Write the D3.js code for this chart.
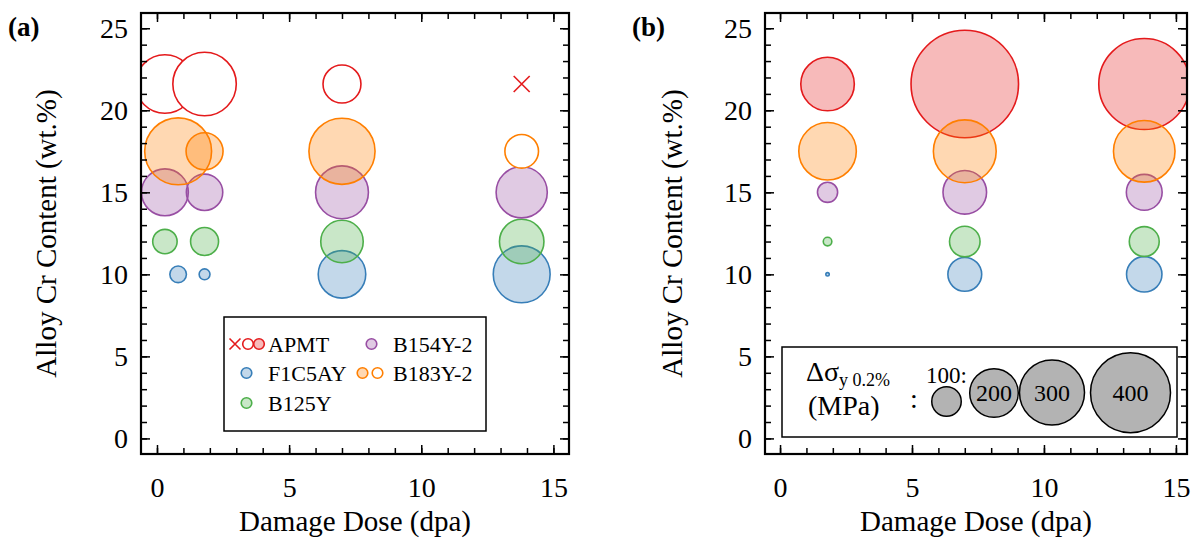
<!DOCTYPE html>
<html>
<head>
<meta charset="utf-8">
<script src="https://cdn.jsdelivr.net/npm/d3@7"></script>
<style>
  body { margin: 0; background: #fff; }
  svg { display: block; }
  text { font-family: "Liberation Serif", "Times New Roman", serif; fill: #000; }
</style>
</head>
<body>
<svg id="chart" width="1195" height="539"></svg>
<script>
// Alloys and their Cr content (wt.%)
const alloys = ['APMT', 'F1C5AY', 'B125Y', 'B154Y-2', 'B183Y-2'];
const crContent = [21.6, 10, 12, 15, 17.5];
const alloyColors = ['#e41a1c', '#377eb8', '#4daf4a', '#984ea3', '#ff7f00'];

// Panel (a): [alloy, dose (dpa), bubble value (MPa), marker]
const pointsA = [
  ['APMT', 0.3, 259, 'open'], ['APMT', 1.8, 290, 'open'], ['APMT', 7, 142, 'open'], ['APMT', 13.8, null, 'cross'],
  ['F1C5AY', 0.8, 45, 'filled'], ['F1C5AY', 1.8, 25, 'filled'], ['F1C5AY', 7, 194, 'filled'], ['F1C5AY', 13.8, 249, 'filled'],
  ['B125Y', 0.3, 77, 'filled'], ['B125Y', 1.8, 93, 'filled'], ['B125Y', 7, 166, 'filled'], ['B125Y', 13.8, 177, 'filled'],
  ['B154Y-2', 0.3, 190, 'filled'], ['B154Y-2', 1.8, 134, 'filled'], ['B154Y-2', 7, 225, 'filled'], ['B154Y-2', 13.8, 215, 'filled'],
  ['B183Y-2', 0.8, 312, 'filled'], ['B183Y-2', 1.8, 137, 'filled'], ['B183Y-2', 7, 307, 'filled'], ['B183Y-2', 13.8, 120, 'open']
];

// Panel (b): [alloy, dose (dpa), yield strength increase (MPa)]
const pointsB = [
  ['APMT', 1.8, 229], ['APMT', 7, 603], ['APMT', 13.8, 478],
  ['F1C5AY', 1.8, 5], ['F1C5AY', 7, 121], ['F1C5AY', 13.8, 129],
  ['B125Y', 1.8, 18], ['B125Y', 7, 105], ['B125Y', 13.8, 102],
  ['B154Y-2', 1.8, 59], ['B154Y-2', 7, 172], ['B154Y-2', 13.8, 131],
  ['B183Y-2', 1.8, 253], ['B183Y-2', 7, 286], ['B183Y-2', 13.8, 278]
];

const sizeLegendValues = [100, 200, 300, 400];
const xMajorTicks = [0, 5, 10, 15];
const xMinorTicks = d3.range(0, 16);
const yMajorTicks = [0, 5, 10, 15, 20, 25];
const yMinorTicks = d3.range(0, 26);

const svg = d3.select('#chart');
const colorOf = d3.scaleOrdinal().domain(alloys).range(alloyColors);
const crOf = d3.scaleOrdinal().domain(alloys).range(crContent);
const rScale = d3.scalePow().exponent(0.72).domain([0, 400]).range([0, 40]);

const y = d3.scaleLinear().domain([-0.95, 25.93]).range([454, 13]);

function drawPanel(id, left, right, xDomain, label, labelX, titleX) {
  const x = d3.scaleLinear().domain(xDomain).range([left, right]);
  const g = svg.append('g');
  const top = 13, bottom = 454;

  g.append('clipPath').attr('id', 'clip-' + id)
    .append('rect').attr('x', left).attr('y', top)
    .attr('width', right - left).attr('height', bottom - top);

  const plot = g.append('g').attr('clip-path', `url(#clip-${id})`);

  // ticks (inward, all four sides)
  const tickStyle = sel => {
    sel.select('.domain').remove();
    sel.selectAll('.tick line').attr('stroke', '#000').attr('stroke-width', 1.5);
    sel.selectAll('.tick text').attr('font-size', 28);
  };
  g.append('g').attr('transform', `translate(0,${bottom})`)
    .call(d3.axisBottom(x).tickValues(xMinorTicks).tickSize(-6).tickFormat(''))
    .call(tickStyle);
  g.append('g').attr('transform', `translate(0,${bottom})`)
    .call(d3.axisBottom(x).tickValues(xMajorTicks).tickSize(-9).tickPadding(23).tickFormat(d3.format('d')))
    .call(tickStyle);
  g.append('g').attr('transform', `translate(0,${top})`)
    .call(d3.axisTop(x).tickValues(xMinorTicks).tickSize(-6).tickFormat(''))
    .call(tickStyle);
  g.append('g').attr('transform', `translate(0,${top})`)
    .call(d3.axisTop(x).tickValues(xMajorTicks).tickSize(-9).tickFormat(''))
    .call(tickStyle);
  g.append('g').attr('transform', `translate(${left},0)`)
    .call(d3.axisLeft(y).tickValues(yMinorTicks).tickSize(-6).tickFormat(''))
    .call(tickStyle);
  g.append('g').attr('transform', `translate(${left},0)`)
    .call(d3.axisLeft(y).tickValues(yMajorTicks).tickSize(-9).tickPadding(13).tickFormat(d3.format('d')))
    .call(tickStyle);
  g.append('g').attr('transform', `translate(${right},0)`)
    .call(d3.axisRight(y).tickValues(yMinorTicks).tickSize(-6).tickFormat(''))
    .call(tickStyle);
  g.append('g').attr('transform', `translate(${right},0)`)
    .call(d3.axisRight(y).tickValues(yMajorTicks).tickSize(-9).tickFormat(''))
    .call(tickStyle);

  // axis titles
  g.append('text')
    .attr('x', (left + right) / 2).attr('y', 531)
    .attr('text-anchor', 'middle').attr('font-size', 29)
    .text('Damage Dose (dpa)');
  g.append('text')
    .attr('transform', `translate(${titleX},${(top + bottom) / 2}) rotate(-90)`)
    .attr('text-anchor', 'middle').attr('font-size', 29)
    .text('Alloy Cr Content (wt.%)');

  g.append('text')
    .attr('x', labelX).attr('y', 36)
    .attr('font-size', 27).attr('font-weight', 'bold')
    .text(label);

  return { g, plot, x, top, bottom, left, right };
}

function drawBubble(sel, cx, cy, r, color, marker) {
  if (marker === 'cross') {
    const h = 8;
    sel.append('path')
      .attr('d', `M${cx - h},${cy - h}L${cx + h},${cy + h}M${cx - h},${cy + h}L${cx + h},${cy - h}`)
      .attr('stroke', color).attr('stroke-width', 1.6).attr('fill', 'none');
    return;
  }
  sel.append('circle')
    .attr('cx', cx).attr('cy', cy).attr('r', r)
    .attr('fill', marker === 'open' ? '#fff' : color)
    .attr('fill-opacity', marker === 'open' ? 1 : 0.3)
    .attr('stroke', color).attr('stroke-width', 1.6);
}

// ---- Panel (a)
const pa = drawPanel('a', 141, 569, [-0.605, 15.59], '(a)', 8, 56);
pointsA.forEach(([alloy, dose, val, marker]) => {
  drawBubble(pa.plot, pa.x(dose), y(crOf(alloy)), val == null ? 0 : rScale(val), colorOf(alloy), marker);
});

// ---- Panel (b)
const pb = drawPanel('b', 765, 1187, [-0.57, 15.42], '(b)', 632, 682);
pointsB.forEach(([alloy, dose, val]) => {
  drawBubble(pb.plot, pb.x(dose), y(crOf(alloy)), rScale(val), colorOf(alloy), 'filled');
});

// frames on top
[pa, pb].forEach(p => {
  p.g.append('rect')
    .attr('x', p.left).attr('y', p.top)
    .attr('width', p.right - p.left).attr('height', p.bottom - p.top)
    .attr('fill', 'none').attr('stroke', '#000').attr('stroke-width', 2.2);
});

// ---- Legend (a)
const la = svg.append('g');
la.append('rect').attr('x', 224).attr('y', 317).attr('width', 262).attr('height', 114)
  .attr('fill', '#fff').attr('stroke', '#000').attr('stroke-width', 1.5);
const legendRows = [
  { alloy: 'APMT', markers: [['cross', 235], ['open', 248], ['filled', 259]], tx: 268, y: 344 },
  { alloy: 'F1C5AY', markers: [['filled', 246.5]], tx: 268, y: 373 },
  { alloy: 'B125Y', markers: [['filled', 246.5]], tx: 268, y: 403 },
  { alloy: 'B154Y-2', markers: [['filled', 371.5]], tx: 393, y: 344 },
  { alloy: 'B183Y-2', markers: [['filled', 362.5], ['open', 377.5]], tx: 393, y: 373 }
];
legendRows.forEach(row => {
  const c = colorOf(row.alloy);
  row.markers.forEach(([m, mx]) => {
    if (m === 'cross') {
      const h = 5.5;
      la.append('path')
        .attr('d', `M${mx - h},${row.y - h}L${mx + h},${row.y + h}M${mx - h},${row.y + h}L${mx + h},${row.y - h}`)
        .attr('stroke', c).attr('stroke-width', 1.6);
    } else {
      la.append('circle').attr('cx', mx).attr('cy', row.y).attr('r', 5.3)
        .attr('fill', m === 'open' ? '#fff' : c).attr('fill-opacity', m === 'open' ? 1 : 0.3)
        .attr('stroke', c).attr('stroke-width', 1.6);
    }
  });
  la.append('text').attr('x', row.tx).attr('y', row.y + 8).attr('font-size', 22).text(row.alloy);
});

// ---- Legend (b)
const lb = svg.append('g');
lb.append('rect').attr('x', 782).attr('y', 347).attr('width', 395).attr('height', 90)
  .attr('fill', '#fff').attr('stroke', '#000').attr('stroke-width', 1.5);
const t1 = lb.append('text').attr('x', 806).attr('y', 381).attr('font-size', 28);
t1.append('tspan').text('Δσ');
t1.append('tspan').attr('dy', 5).attr('font-size', 18).text('y 0.2%');
lb.append('text').attr('x', 808).attr('y', 415).attr('font-size', 28).text('(MPa)');
lb.append('text').attr('x', 914).attr('y', 408).attr('text-anchor', 'middle').attr('font-size', 28).text(':');
lb.append('text').attr('x', 926).attr('y', 383).attr('font-size', 23).text('100:');

const legendCx = [946.5, 994, 1052, 1130.5];
const legendCy = [401.5, 393, 392.5, 392.8];
sizeLegendValues.forEach((v, i) => {
  lb.append('circle')
    .attr('cx', legendCx[i]).attr('cy', legendCy[i]).attr('r', rScale(v))
    .attr('fill', '#b3b3b3').attr('stroke', '#000').attr('stroke-width', 1.5);
  if (i > 0) {
    lb.append('text')
      .attr('x', legendCx[i]).attr('y', legendCy[i]).attr('dy', '0.35em')
      .attr('text-anchor', 'middle').attr('font-size', 24)
      .text(v);
  }
});
</script>
</body>
</html>
